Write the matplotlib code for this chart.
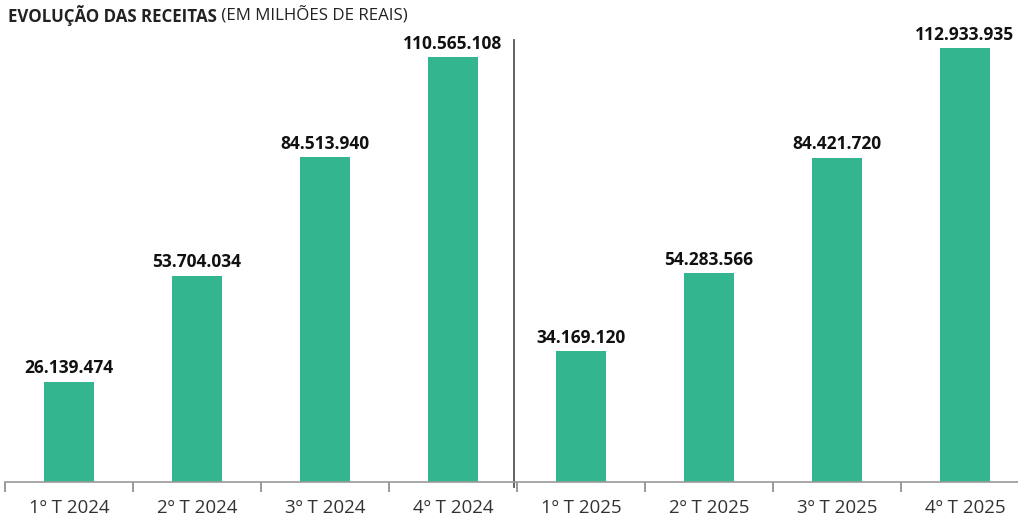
import numpy as np
import matplotlib.pyplot as plt

plt.rcParams['font.family'] = ['Open Sans', 'DejaVu Sans']

quarters = ["1º T 2024", "2º T 2024", "3º T 2024", "4º T 2024",
            "1º T 2025", "2º T 2025", "3º T 2025", "4º T 2025"]
receitas = [26139474, 53704034, 84513940, 110565108,
            34169120, 54283566, 84421720, 112933935]

fig = plt.figure(figsize=(10.18, 5.22), dpi=100)
ax = fig.add_axes([5/1018, 40/522, 1024/1018, 442/522])

x = np.arange(len(quarters))
ax.bar(x, receitas, width=0.39, color="#33B68F")

for xi, v in zip(x, receitas):
    lbl = f"{v:,}".replace(",", ".")
    ax.annotate(lbl, (xi, v), xytext=(0, 3), textcoords="offset points",
                ha="center", va="bottom", fontsize=12.5, fontweight="bold", color="#111111")

ax.set_xlim(-0.5, 7.5)
ax.set_ylim(0, 115e6)
ax.set_xticks(x)
ax.set_xticklabels(quarters, fontsize=13.5, color="#333333")
ax.set_xticks(np.arange(-0.5, 8, 1), minor=True)
ax.tick_params(axis="x", which="major", length=0, pad=12)
ax.tick_params(axis="x", which="minor", length=7, color="#888888", width=1.2)
ax.set_yticks([])
for s in ["top", "right", "left"]:
    ax.spines[s].set_visible(False)
ax.spines["bottom"].set_color("#999999")
ax.spines["bottom"].set_linewidth(1.2)

# separador entre os anos
ax.axvline(3.48, ymin=-0.012, ymax=1.0, color="#555555", lw=1.3, clip_on=False)

t1 = fig.text(8/1018, 1 - 16/522, "EVOLUÇÃO DAS RECEITAS", fontsize=12.2,
              fontweight="bold", color="#222222", va="center")
ax.annotate(" (EM MILHÕES DE REAIS)", xy=(1, 0.5), xycoords=t1, va="center",
            fontsize=12.2, color="#222222", annotation_clip=False)

fig.savefig("out.png", dpi=100)
